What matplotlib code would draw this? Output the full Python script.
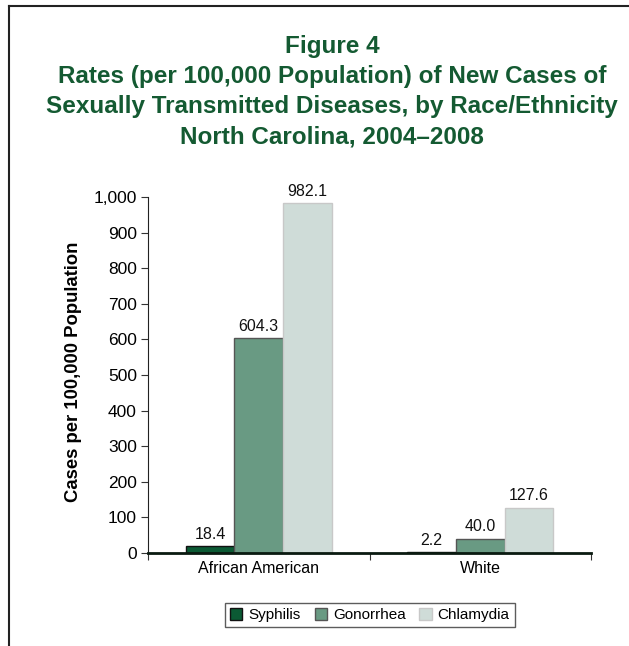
import matplotlib
matplotlib.use("Agg")
import matplotlib.pyplot as plt
import numpy as np
from matplotlib.lines import Line2D
from matplotlib.ticker import FuncFormatter

categories = ["African American", "White"]
series = ["Syphilis", "Gonorrhea", "Chlamydia"]
syphilis = [18.4, 2.2]
gonorrhea = [604.3, 40.0]
chlamydia = [982.1, 127.6]
yticks = [0, 100, 200, 300, 400, 500, 600, 700, 800, 900, 1000]

colors = ["#0b5a34", "#699a83", "#cfdcd8"]
edges = ["#111111", "#555555", "#c8c8c8"]
title_color = "#145a32"

plt.rcParams['font.family'] = ['Liberation Sans', 'DejaVu Sans']

W, H = 629, 646
fig = plt.figure(figsize=(W/100, H/100), dpi=100)

# frame lines
fig.add_artist(Line2D([9/W, 9/W], [0, 1-6/H], transform=fig.transFigure, color="#222222", lw=1.5))
fig.add_artist(Line2D([9/W, 1], [1-6/H, 1-6/H], transform=fig.transFigure, color="#222222", lw=1.5))

# title
tfont = dict(weight='bold', color=title_color, fontsize=17.5, ha='center', va='center')
title_lines = ["Figure 4",
               "Rates (per 100,000 Population) of New Cases of",
               "Sexually Transmitted Diseases, by Race/Ethnicity",
               "North Carolina, 2004\u20132008"]
for line, yp in zip(title_lines, [46, 77, 107, 137]):
    fig.text(332/W, 1-yp/H, line, **tfont)

ax = fig.add_axes([148/W, 93/H, 443/W, 356/H])
x = np.arange(len(categories)) + 0.5
bw = 0.22
data = [syphilis, gonorrhea, chlamydia]
handles = []
for i, (vals, c, e, name) in enumerate(zip(data, colors, edges, series)):
    xs = x + (i-1)*bw
    b = ax.bar(xs, vals, width=bw, color=c, edgecolor=e, linewidth=1.0, label=name)
    handles.append(b)
    for xi, v in zip(xs, vals):
        ax.text(xi, v + 12, f"{v:.1f}", ha='center', va='bottom', fontsize=11.5, color='#111111')

ax.set_xlim(0, 2)
ax.set_ylim(0, 1000)
ax.set_yticks(yticks)
ax.yaxis.set_major_formatter(FuncFormatter(lambda v, p: f"{int(v):,}"))
ax.set_xticks([0, 1, 2])
ax.set_xticklabels([])
ax.set_xticks(x, minor=True)
ax.set_xticklabels(categories, minor=True)
ax.tick_params(axis='x', which='minor', length=0, labelsize=11.5, pad=6)
ax.tick_params(axis='x', which='major', length=5, direction='out', color='#333333')
ax.tick_params(axis='y', length=5, direction='out', labelsize=12.5, pad=3, color='#333333')
for s in ['top', 'right']:
    ax.spines[s].set_visible(False)
ax.spines['left'].set_color('#222222')
ax.spines['bottom'].set_color('#0a1a10')
ax.spines['bottom'].set_linewidth(2)

fig.text(73/W, 1-372/H, "Cases per 100,000 Population", rotation=90, ha='center', va='center',
         fontsize=13.3, weight='bold')

leg = fig.legend(handles=handles, labels=series, loc='center', bbox_to_anchor=(370/W, 1-615/H),
                 ncol=3, fontsize=11, frameon=True, fancybox=False, edgecolor='#333333',
                 handlelength=0.8, handleheight=0.8, handletextpad=0.4, columnspacing=0.9,
                 borderpad=0.35)
leg.get_frame().set_linewidth(1.0)

fig.savefig("out.png", dpi=100)
